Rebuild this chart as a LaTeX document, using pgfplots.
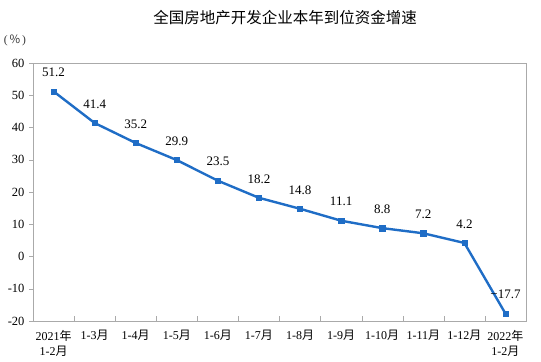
\documentclass[border=0pt]{standalone}
\usepackage{pgfplots}
\pgfplotsset{compat=1.18}
\usepackage{fontspec}
\setmainfont{Liberation Serif}
\newfontfamily\cjk{Noto Sans CJK SC}
\definecolor{lineblue}{RGB}{31,109,198}
\definecolor{axgray}{RGB}{170,170,170}
\newcommand{\yue}{{\cjk 月}}
\newcommand{\nian}{{\cjk 年}}
\begin{document}
\begin{tikzpicture}
\path[use as bounding box] (-33bp,-41bp) rectangle (508bp,321bp);
\begin{axis}[
  at={(0,0)}, anchor=south west,
  scale only axis, width=493bp, height=258bp,
  xmin=-0.5, xmax=11.5, ymin=-20, ymax=60,
  ytick={-20,-10,...,60},
  xtick={0,...,11},
  xticklabels={{2021\nian\\1-2\yue},{1-3\yue},{1-4\yue},{1-5\yue},{1-6\yue},{1-7\yue},{1-8\yue},{1-9\yue},{1-10\yue},{1-11\yue},{1-12\yue},{2022\nian\\1-2\yue}},
  minor xtick={0.5,1.5,...,10.5},
  xtick pos=left, ytick pos=left,
  tick align=outside,
  major tick length=4bp, minor tick length=5bp,
  major x tick style={draw=none},
  minor x tick style={yshift=5bp, draw=axgray},
  major y tick style={draw=axgray},
  axis line style={draw=axgray, line width=0.8bp},
  x tick label style={font=\fontsize{12bp}{15bp}\selectfont, align=center, anchor=north, yshift=-2bp},
  y tick label style={font=\fontsize{12.5bp}{13bp}\selectfont, xshift=-1bp},
  /pgf/number format/assume math mode=true,
  nodes near coords,
  every node near coord/.append style={anchor=center, yshift=19bp, font=\fontsize{13bp}{14bp}\selectfont, text=black},
  point meta=explicit symbolic,
]
\addplot[lineblue, line width=2.4bp, mark=square*, mark size=2.6bp, mark options={solid, line width=0.4bp}] table[meta=lab] {
x y lab
0 51.2 51.2
1 41.4 41.4
2 35.2 35.2
3 29.9 29.9
4 23.5 23.5
5 18.2 18.2
6 14.8 14.8
7 11.1 11.1
8 8.8 8.8
9 7.2 7.2
10 4.2 4.2
11 -17.7 −17.7
};
\end{axis}
\node[font=\cjk\fontsize{15.5bp}{17bp}\selectfont] at (252bp,303bp) {全国房地产开发企业本年到位资金增速};
\node[font=\fontsize{11.5bp}{12bp}\selectfont, text=black!80] at (-18bp,281bp) {(\,{\cjk\%}\,)};
\end{tikzpicture}
\end{document}
